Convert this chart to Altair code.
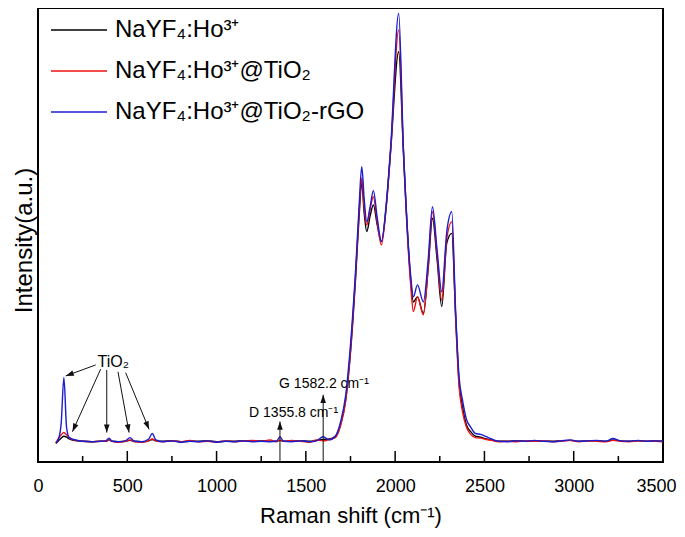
import math
import altair as alt
import pandas as pd

# ---------------- data ----------------
RAMAN_SHIFT = [100, 115, 130, 145, 160, 175, 200, 250, 300, 350,
               380, 398, 415, 450, 490, 515, 540, 580, 620, 640,
               660, 700, 750, 800, 850, 900, 950, 1000, 1050, 1100,
               1150, 1200, 1250, 1300, 1335, 1355, 1375, 1420, 1470, 1520,
               1560, 1597, 1630, 1665, 1695, 1723, 1751, 1779, 1798, 1813,
               1827, 1841, 1860, 1878, 1900, 1923, 1950, 1975, 2020, 2046,
               2087, 2102, 2125, 2158, 2185, 2209, 2235, 2261, 2289, 2317,
               2339, 2358, 2377, 2400, 2423, 2450, 2479, 2510, 2540, 2580,
               2630, 2680, 2730, 2780, 2830, 2880, 2930, 2980, 3030, 3080,
               3130, 3180, 3220, 3260, 3310, 3360, 3410, 3460, 3500]

I_BLACK = [4.0, 4.6, 5.2, 5.6, 5.4, 5.0, 4.7, 4.5, 4.4, 4.5,
           4.5, 4.8, 4.5, 4.4, 4.5, 4.7, 4.5, 4.4, 4.6, 4.9,
           4.6, 4.5, 4.6, 4.4, 4.5, 4.5, 4.6, 4.4, 4.5, 4.5,
           4.6, 4.5, 4.6, 4.5, 4.5, 4.7, 4.5, 4.5, 4.6, 4.5,
           4.7, 4.9, 5.0, 5.6, 8.3, 13.5, 24.3, 40.3, 53.3, 60.6,
           54.0, 50.1, 53.5, 55.9, 51.5, 47.9, 55.5, 67.8, 89.2, 67.8,
           39.6, 34.8, 35.9, 32.3, 42.0, 53.0, 44.0, 33.8, 47.6, 49.7,
           31.6, 17.2, 12.0, 8.0, 6.6, 5.6, 5.4, 5.0, 4.8, 4.5,
           4.5, 4.6, 4.5, 4.6, 4.5, 4.5, 4.6, 4.7, 4.5, 4.6,
           4.6, 4.5, 4.8, 4.6, 4.5, 4.6, 4.5, 4.6, 4.5]

I_RED = [4.1, 5.2, 5.9, 6.4, 5.9, 5.3, 4.8, 4.5, 4.4, 4.5,
         4.5, 4.8, 4.5, 4.3, 4.5, 4.8, 4.4, 4.3, 4.6, 5.0,
         4.6, 4.4, 4.6, 4.4, 4.7, 4.4, 4.5, 4.3, 4.6, 4.4,
         4.6, 4.7, 4.5, 4.8, 4.4, 4.8, 4.5, 4.7, 4.5, 4.3,
         4.8, 4.6, 4.9, 5.3, 8.0, 13.3, 24.8, 41.0, 54.2, 61.7,
         55.0, 51.5, 55.0, 57.7, 52.0, 47.2, 55.5, 67.8, 93.9, 67.8,
         38.5, 32.7, 35.9, 32.0, 42.5, 54.4, 45.0, 35.2, 48.5, 52.2,
         31.0, 16.5, 11.0, 7.5, 6.0, 5.3, 5.2, 4.9, 4.7, 4.4,
         4.5, 4.4, 4.6, 4.5, 4.6, 4.4, 4.5, 4.7, 4.4, 4.6,
         4.5, 4.4, 4.7, 4.5, 4.4, 4.6, 4.5, 4.5, 4.4]

I_BLUE = [4.2, 5.0, 8.5, 18.4, 7.5, 5.3, 4.9, 4.5, 4.4, 4.5,
          4.6, 5.2, 4.5, 4.4, 4.6, 5.3, 4.5, 4.4, 5.0, 6.2,
          4.8, 4.4, 4.6, 4.3, 4.5, 4.4, 4.6, 4.3, 4.5, 4.4,
          4.6, 4.4, 4.5, 4.4, 4.5, 5.5, 4.5, 4.4, 4.6, 4.4,
          4.6, 5.5, 4.8, 5.6, 8.8, 14.5, 26.0, 42.0, 55.5, 64.2,
          57.0, 52.2, 55.5, 59.0, 53.0, 47.9, 56.0, 68.5, 97.5, 68.5,
          40.5, 35.9, 38.5, 34.8, 44.0, 55.5, 46.0, 37.0, 50.0, 54.4,
          32.5, 18.5, 13.5, 9.2, 7.6, 6.2, 6.0, 5.5, 5.0, 4.5,
          4.4, 4.6, 4.5, 4.7, 4.5, 4.4, 4.6, 4.8, 4.5, 4.6,
          4.7, 4.5, 5.1, 4.6, 4.5, 4.7, 4.5, 4.6, 4.5]

SERIES = ["NaYF₄:Ho³⁺", "NaYF₄:Ho³⁺@TiO₂", "NaYF₄:Ho³⁺@TiO₂-rGO"]
COLORS = ["#000000", "#ee1111", "#1c1cd0"]

X_TICKS = [0, 500, 1000, 1500, 2000, 2500, 3000, 3500]
X_MINOR = [250, 750, 1250, 1750, 2250, 2750, 3250]

# TiO2 annotation arrows (start -> tip)
TIO2_X0 = [323, 351, 385, 448, 491]
TIO2_Y0 = [21.1, 20.2, 20.0, 19.6, 19.4]
TIO2_X1 = [155, 193, 385, 510, 622]
TIO2_Y1 = [18.7, 6.6, 6.4, 6.4, 7.1]
TIO2_LABEL = ["TiO₂"]
TIO2_LABEL_X = [333]
TIO2_LABEL_Y = [20.6]

# D / G band arrows
BAND_X = [1355, 1597]
BAND_TIP = [8.8, 14.6]
BAND_LABEL = ["D 1355.8 cm⁻¹", "G 1582.2 cm⁻¹"]
BAND_LABEL_X = [1182, 1350]
BAND_LABEL_Y = [9.85, 16.0]

# ---------------- layout ----------------
W, H = 625, 454
XMAX, YMAX = 3500, 98.7
FONT = "Liberation Sans"

assert len(RAMAN_SHIFT) == len(I_BLACK) == len(I_RED) == len(I_BLUE)

rows = []
for name, ys in zip(SERIES, [I_BLACK, I_RED, I_BLUE]):
    for x, y in zip(RAMAN_SHIFT, ys):
        rows.append({"shift": x, "intensity": y, "sample": name})
df = pd.DataFrame(rows)

xscale = alt.Scale(domain=[0, XMAX], nice=False, zero=False)
yscale = alt.Scale(domain=[0, YMAX], nice=False, zero=False)

LAST = f"datum.value == {X_TICKS[-1]}"
XAX = alt.Axis(values=X_TICKS, format="d", title="Raman shift (cm⁻¹)", ticks=False,
               domain=False, grid=False, labelFlush=False,
               labelAlign={"condition": {"test": LAST, "value": "right"}, "value": "center"},
               labelOffset={"condition": {"test": LAST, "value": 13}, "value": 0},
               labelFontSize=18, labelPadding=15,
               titleFontSize=22, titlePadding=10)
YAX = alt.Axis(labels=False, ticks=False, domain=False, grid=False,
               title="Intensity(a.u.)", titleFontSize=24, titlePadding=2, titleY=232)

lines = alt.Chart(df).mark_line(strokeWidth=1.4, interpolate="monotone").encode(
    x=alt.X("shift:Q", scale=xscale, axis=XAX),
    y=alt.Y("intensity:Q", scale=yscale, axis=YAX),
    color=alt.Color("sample:N", scale=alt.Scale(domain=SERIES, range=COLORS),
                    legend=alt.Legend(title=None, orient="none", legendX=12, legendY=-7,
                                      symbolType="stroke", symbolSize=3136,
                                      symbolStrokeWidth=1.4, labelFontSize=24,
                                      labelFont=FONT, labelOffset=7, rowPadding=-15,
                                      padding=0, labelLimit=400)),
)

tick_major = alt.Chart(pd.DataFrame({"t": X_TICKS})).mark_rule(
    color="black", strokeWidth=1.5).encode(
    x=alt.X("t:Q", scale=xscale, axis=XAX), y=alt.value(H), y2=alt.value(H - 11))
tick_minor = alt.Chart(pd.DataFrame({"t": X_MINOR})).mark_rule(
    color="black", strokeWidth=1.5).encode(
    x=alt.X("t:Q", scale=xscale, axis=XAX), y=alt.value(H), y2=alt.value(H - 6))

# arrows
arr = pd.DataFrame({"x0": TIO2_X0 + BAND_X, "y0": TIO2_Y0 + [0, 0],
                    "x1": TIO2_X1 + BAND_X, "y1": TIO2_Y1 + BAND_TIP})
px_x = W / XMAX
px_y = H / YMAX
arr["angle"] = [
    math.degrees(math.atan2((x1 - x0) * px_x, (y1 - y0) * px_y)) % 360
    for x0, y0, x1, y1 in zip(arr.x0, arr.y0, arr.x1, arr.y1)
]

shafts = alt.Chart(arr).mark_rule(color="#111111", strokeWidth=1).encode(
    x=alt.X("x0:Q", scale=xscale, axis=XAX), y=alt.Y("y0:Q", scale=yscale, axis=YAX),
    x2="x1:Q", y2="y1:Q")
heads = alt.Chart(arr).mark_point(
    shape="M0,0L0.38,1.1L-0.38,1.1Z", filled=True, size=220, color="#111111",
    opacity=1, strokeWidth=0).encode(
    x=alt.X("x1:Q", scale=xscale, axis=XAX), y=alt.Y("y1:Q", scale=yscale, axis=YAX),
    angle=alt.Angle("angle:Q", scale=None))

tio2_text = alt.Chart(pd.DataFrame({"x": TIO2_LABEL_X, "y": TIO2_LABEL_Y, "t": TIO2_LABEL})).mark_text(
    align="left", baseline="alphabetic", fontSize=16, font=FONT, color="black").encode(
    x=alt.X("x:Q", scale=xscale, axis=XAX), y=alt.Y("y:Q", scale=yscale, axis=YAX), text="t:N")
band_text = alt.Chart(pd.DataFrame({"x": BAND_LABEL_X, "y": BAND_LABEL_Y, "t": BAND_LABEL})).mark_text(
    align="left", baseline="alphabetic", fontSize=14, font=FONT, color="black").encode(
    x=alt.X("x:Q", scale=xscale, axis=XAX), y=alt.Y("y:Q", scale=yscale, axis=YAX), text="t:N")

chart = alt.layer(lines, tick_major, tick_minor, shafts, heads, tio2_text, band_text).properties(
    width=W, height=H,
    autosize=alt.AutoSizeParams(type="none"),
    padding={"left": 30, "top": 0, "right": 14, "bottom": 67},
    background="white",
).configure_view(stroke="black", strokeWidth=2).configure_axis(
    labelFont=FONT, titleFont=FONT, labelColor="black", titleColor="black",
    titleFontWeight="normal"
)

chart.save("out.html", embed_options={"renderer": "svg", "actions": False})
